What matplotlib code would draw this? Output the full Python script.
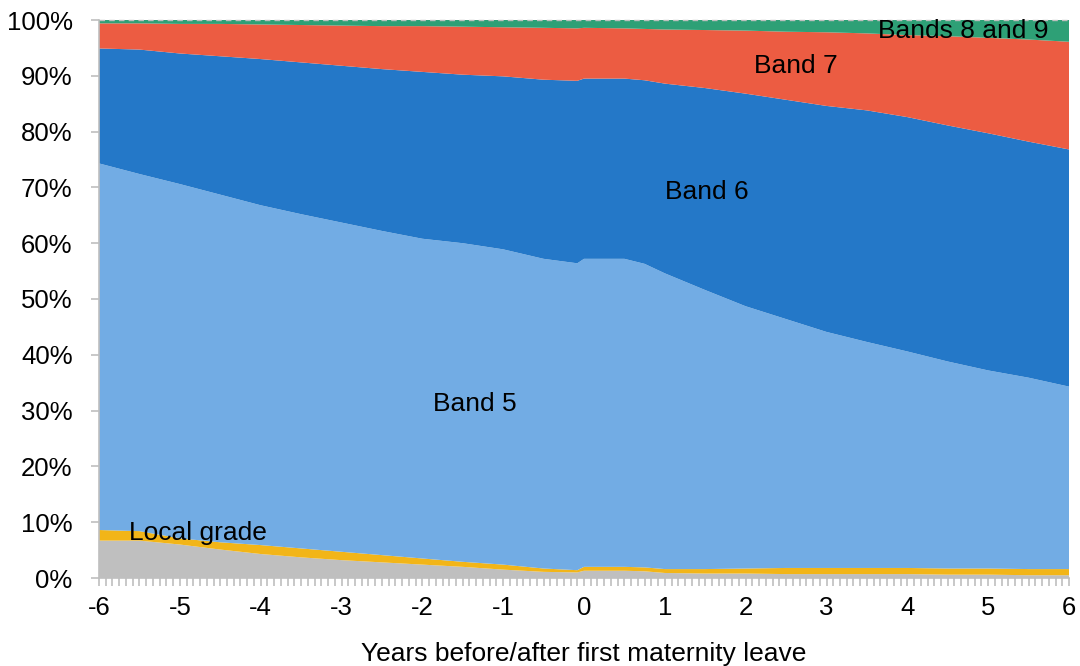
import matplotlib
matplotlib.use("Agg")
import matplotlib.pyplot as plt
from matplotlib.ticker import MultipleLocator, FuncFormatter

plt.rcParams['font.family'] = ['Liberation Sans', 'DejaVu Sans']
plt.rcParams['axes.unicode_minus'] = False

# Years before/after first maternity leave
years = [-6, -5.5, -5, -4.5, -4, -3.5, -3, -2.5, -2, -1.5, -1, -0.5, -0.083,
         0, 0.5, 0.75, 1, 1.5, 2, 2.5, 3, 3.5, 4, 4.5, 5, 5.5, 6]

# Shares (%) by grade
other = [6.7, 6.7, 6.0, 5.1, 4.3, 3.7, 3.2, 2.8, 2.4, 2.0, 1.5, 1.1, 1.0,
         1.3, 1.3, 1.2, 0.9, 0.8, 0.8, 0.7, 0.7, 0.7, 0.7, 0.6, 0.6, 0.5, 0.5]
local_grade = [1.9, 1.7, 1.1, 1.3, 1.6, 1.6, 1.5, 1.3, 1.1, 0.9, 0.9, 0.6, 0.4,
               0.7, 0.7, 0.7, 0.7, 0.8, 0.9, 1.1, 1.1, 1.1, 1.1, 1.1, 1.1, 1.1, 1.1]
band5 = [65.7, 64.0, 63.5, 62.3, 60.9, 59.9, 59.0, 58.1, 57.3, 57.1, 56.5, 55.5, 55.0,
         55.2, 55.2, 54.4, 53.0, 50.0, 47.0, 44.6, 42.3, 40.5, 38.8, 37.1, 35.5, 34.3, 32.7]
band6 = [20.6, 22.3, 23.4, 24.8, 26.2, 27.2, 28.1, 29.0, 29.9, 30.2, 31.0, 32.1, 32.7,
         32.3, 32.3, 32.9, 34.0, 36.2, 38.1, 39.3, 40.5, 41.5, 42.0, 42.3, 42.5, 42.3, 42.5]
band7 = [4.5, 4.7, 5.3, 5.8, 6.2, 6.7, 7.2, 7.7, 8.2, 8.6, 8.8, 9.3, 9.4,
         9.1, 9.0, 9.2, 9.7, 10.4, 11.3, 12.2, 13.2, 13.8, 14.7, 16.0, 17.1, 18.3, 19.3]
band89 = [0.6, 0.6, 0.7, 0.7, 0.8, 0.9, 1.0, 1.1, 1.1, 1.2, 1.3, 1.4, 1.5,
          1.4, 1.5, 1.6, 1.7, 1.8, 1.9, 2.1, 2.2, 2.4, 2.7, 2.9, 3.2, 3.5, 3.9]

series = [other, local_grade, band5, band6, band7, band89]
colors = ['#BFBFBF', '#F2B518', '#72ACE4', '#2478C8', '#EC5C42', '#2EA076']

fig = plt.figure(figsize=(10.8, 6.66), dpi=100)
ax = fig.add_axes([99/1080, 1 - 578/666, (1069-99)/1080, (578-20)/666])

ax.stackplot(years, *[[v/100 for v in s] for s in series], colors=colors, linewidth=0)

ax.set_xlim(-6, 6)
ax.set_ylim(0, 1)
ax.axhline(1, color='#BFBFBF', lw=1, ls=(0, (4, 3)), zorder=3, clip_on=False)

ax.xaxis.set_major_locator(MultipleLocator(1))
ax.xaxis.set_minor_locator(MultipleLocator(1/12))
ax.yaxis.set_major_locator(MultipleLocator(0.1))
ax.yaxis.set_major_formatter(FuncFormatter(lambda v, p: f"{v*100:.0f}%"))

for s in ['top', 'right']:
    ax.spines[s].set_visible(False)
for s in ['left', 'bottom']:
    ax.spines[s].set_color('#BFBFBF')
    ax.spines[s].set_linewidth(1.2)
    ax.spines[s].set_zorder(4)

ax.tick_params(axis='both', which='both', color='#BFBFBF', width=1.2,
               labelsize=18.5, labelcolor='black')
ax.tick_params(axis='x', which='major', length=6, pad=7)
ax.tick_params(axis='x', which='minor', length=6)
ax.tick_params(axis='y', which='major', length=6, pad=13)

ax.set_xlabel('Years before/after first maternity leave', fontsize=19, labelpad=16)

lab = dict(fontsize=19, color='black', ha='center', va='center')
ax.text(-1.35, 0.312, 'Band 5', **lab)
ax.text(1.52, 0.692, 'Band 6', **lab)
ax.text(2.62, 0.918, 'Band 7', **lab)
ax.text(4.69, 0.98, 'Bands 8 and 9', **lab)
ax.text(-4.78, 0.081, 'Local grade', **lab)

fig.savefig('out.png', dpi=100)
